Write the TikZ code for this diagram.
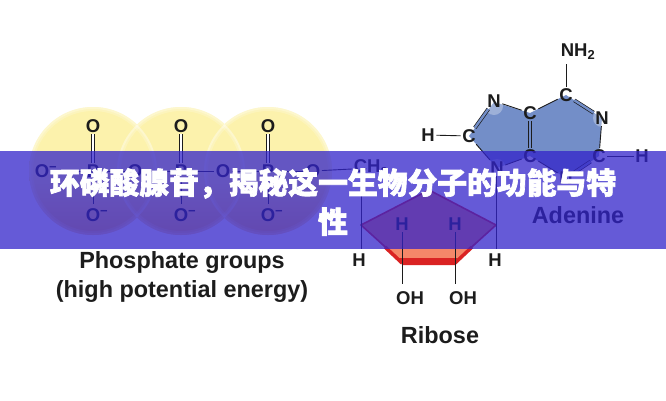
\documentclass[tikz,border=0pt]{standalone}
\usepackage{fontspec}
\setmainfont{Liberation Sans}
\newfontfamily\labf{Liberation Sans Bold}
\newfontfamily\cjk[BoldFeatures={FakeBold=2.2}]{Noto Sans CJK SC}
\definecolor{ink}{RGB}{28,28,28}
\definecolor{bandc}{RGB}{50,35,202}
\definecolor{ringfill}{RGB}{115,142,200}
\definecolor{salmon}{RGB}{245,135,105}
\definecolor{rred}{RGB}{218,35,35}
\definecolor{yel}{RGB}{252,242,172}
\definecolor{ora}{RGB}{248,185,100}
\tikzset{
  atom/.style={font=\labf\fontsize{18.5}{18}\selectfont,text=ink,inner sep=1.5pt},
  caption/.style={font=\labf\fontsize{23.4}{29}\selectfont,text=ink,inner sep=0pt,align=center},
  bond/.style={draw=ink,line width=0.9pt},
  dbl/.style={draw=ink,line width=0.7pt,double=white,double distance=2.4pt},
  halo/.style={fill=white,fill opacity=0.3,draw=none},
  phos/.style={top color=yel,bottom color=ora,middle color=yel,draw=none}
}
\begin{document}
\begin{tikzpicture}[x=1pt,y=-1pt]
\useasboundingbox (0,0) rectangle (666,400);
\fill[white] (0,0) rectangle (666,400);
% phosphate discs
\foreach \cx in {93,181,268}{
  \shade[phos] (\cx,171) circle (64);
}
\foreach \cx in {93,181,268}{
  \draw[white,opacity=.4,line width=2pt] (\cx,171) circle (63);
  \draw[white,opacity=.2,line width=2pt] (\cx,171) circle (61);
}
% phosphate atoms
\foreach \n/\cx in {a/93,b/181,c/268}{
  \node[atom] (o\n) at (\cx,126) {O};
  \node[atom] (p\n) at (\cx,171) {P};
  \node[atom] (m\n) at (\cx+4,215) {O\textsuperscript{−}};
  \coordinate (mt\n) at (\cx,204);
  \draw[bond,double,double distance=2.4pt,line width=.7pt] (o\n) -- (p\n);
  \draw[bond] (p\n) -- (mt\n);
}
\node[atom] (ol) at (46,171) {O\textsuperscript{−}};
\node[atom] (o1) at (135,171) {O};
\node[atom] (o2) at (223,171) {O};
\node[atom] (o3) at (313,171) {O};
\node[atom] (ch) at (371,168) {CH\textsubscript{2}};
\draw[bond] (ol) -- (pa);
\draw[bond] (pa) -- (o1);
\draw[bond] (o1) -- (pb);
\draw[bond] (pb) -- (o2);
\draw[bond] (o2) -- (pc);
\draw[bond] (pc) -- (o3);
\draw[bond] (o3) -- (ch);
% adenine rings
\fill[ringfill] (566,95) -- (602,118) -- (599,156) -- (566,178) -- (530,156) -- (497,168) -- (469,136) -- (494,102) -- (530,113) -- cycle;
\foreach \x/\y in {494/106,602/118,497/168,566/178}{
  \fill[halo] (\x,\y) circle (9);
}
\node[atom] (nh) at (578,52) {NH\textsubscript{2}};
\node[atom] (c1) at (566,95) {C};
\node[atom] (n1) at (602,118) {N};
\node[atom] (c2) at (599,156) {C};
\node[atom] (h2) at (642,156) {H};
\node[atom] (n2) at (566,178) {N};
\node[atom] (c3) at (530,156) {C};
\node[atom] (c4) at (530,113) {C};
\node[atom] (n3) at (494,101) {N};
\node[atom] (c5) at (469,136) {C};
\node[atom] (h5) at (428,135) {H};
\node[atom] (n4) at (497,168) {N};
\coordinate (nht) at (566,64);
\draw[bond] (nht) -- (c1);
\draw[dbl,double=ringfill] (c1) -- (n1);
\draw[bond] (n1) -- (c2);
\draw[bond] (c2) -- (h2);
\draw[dbl,double=ringfill] (c2) -- (n2);
\draw[bond] (n2) -- (c3);
\draw[dbl,double=ringfill] (c3) -- (c4);
\draw[bond] (c4) -- (c1);
\draw[bond] (c4) -- (n3);
\draw[dbl,double=ringfill] (n3) -- (c5);
\draw[bond] (c5) -- (h5);
\draw[bond] (c5) -- (n4);
\draw[bond] (n4) -- (c3);
\node[caption] (ad) at (578,215) {Adenine};
% ribose
\fill[salmon] (429,190) -- (496,225) -- (455,264) -- (402,264) -- (361,225) -- cycle;
\draw[rred,line width=1.6pt,line join=round] (402,262) -- (361,225) -- (429,190) -- (496,225) -- (455,262);
\fill[rred] (400,258) -- (457,258) -- (455,265) -- (402,265) -- cycle;
\draw[rred,line width=3.5pt] (402,263) -- (385,247);
\draw[rred,line width=3.5pt] (455,263) -- (472,247);
\node[atom] (h3) at (402,224) {H};
\node[atom] (h4) at (455,224) {H};
\node[atom] (hl) at (359,260) {H};
\node[atom] (hr) at (495,260) {H};
\node[atom] (oh1) at (410,298) {OH};
\node[atom] (oh2) at (463,298) {OH};
\coordinate (e1) at (402,284);
\coordinate (e2) at (455,284);
\draw[bond] (h3) -- (e1);
\draw[bond] (h4) -- (e2);
\coordinate (chb) at (361,176);
\coordinate (hlt) at (361,249);
\coordinate (n4b) at (496,176);
\coordinate (hrt) at (496,249);
\draw[bond] (chb) -- (hlt);
\draw[bond] (n4b) -- (hrt);
\node[caption] (rib) at (440,335) {Ribose};
\node[caption] (pg) at (182,276.5) {Phosphate groups\\(high potential energy)};
% band
\fill[bandc,opacity=.75] (0,151) rectangle (666,249);
\node[font=\cjk\bfseries\fontsize{29.8}{39}\selectfont,text=white,align=center,inner sep=0pt] (ttl) at (333,202) {环磷酸腺苷，揭秘这一生物分子的功能与特\\性};
\end{tikzpicture}
\end{document}
